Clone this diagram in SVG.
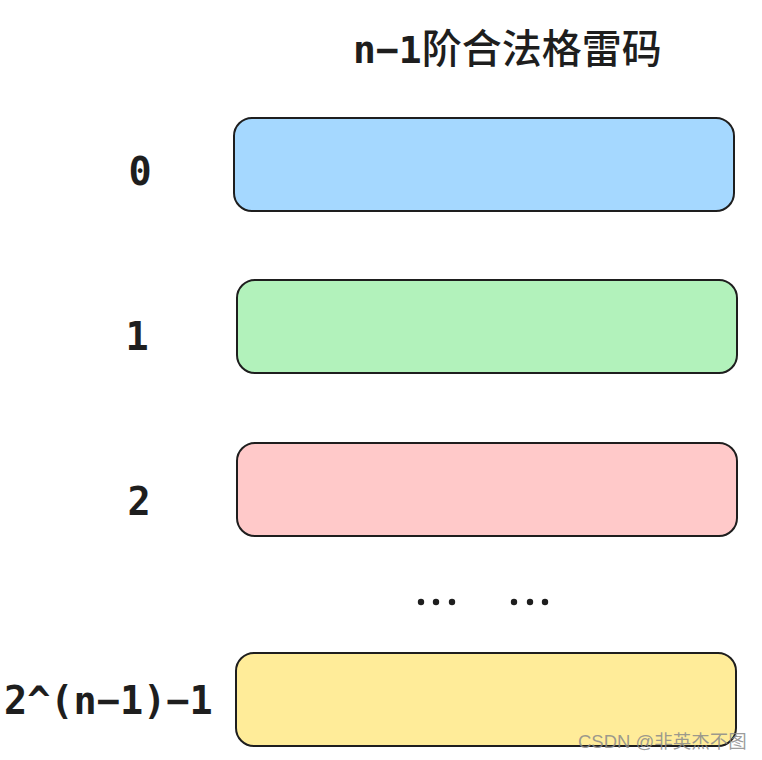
<svg xmlns="http://www.w3.org/2000/svg" width="762" height="760" viewBox="0 0 762 760">
<style>
.box{stroke:#1e1e1e;stroke-width:2}
.lbl{font-family:"DejaVu Sans Mono","Liberation Mono",monospace;font-weight:bold;font-size:38.5px;fill:#1e1e1e}
.title{font-family:"DejaVu Sans Mono","Noto Sans CJK SC",monospace;font-weight:bold;font-size:38px;fill:#1e1e1e}
.dot{fill:#1e1e1e}
</style>
<rect width="762" height="760" fill="#ffffff"/>
<text class="title" x="353" y="63">n−1<tspan style="font-family:'Noto Sans CJK SC',sans-serif;font-weight:500;font-size:40px">阶合法格雷码</tspan></text>
<g id="row0">
<rect class="box" x="234" y="118" width="500" height="93" rx="18" fill="#a5d8ff"/>
<text class="lbl" x="140" y="185" text-anchor="middle">0</text>
</g>
<g id="row1">
<rect class="box" x="237" y="280" width="500" height="93" rx="18" fill="#b2f2bb"/>
<text class="lbl" x="137" y="350" text-anchor="middle">1</text>
</g>
<g id="row2">
<rect class="box" x="237" y="443" width="500" height="93" rx="18" fill="#ffc9c9"/>
<text class="lbl" x="139" y="515" text-anchor="middle">2</text>
</g>
<g id="dots">
<circle class="dot" cx="421" cy="602" r="3.2"/>
<circle class="dot" cx="436" cy="602" r="3.2"/>
<circle class="dot" cx="452" cy="602" r="3.2"/>
<circle class="dot" cx="514" cy="602" r="3.2"/>
<circle class="dot" cx="530" cy="602" r="3.2"/>
<circle class="dot" cx="545" cy="602" r="3.2"/>
</g>
<g id="row3">
<rect class="box" x="236" y="653" width="500" height="93" rx="18" fill="#ffec99"/>
<text class="lbl" x="4" y="714">2^(n−1)−1</text>
</g>
<g id="connectors"></g>
<text x="578" y="748" font-family="'Liberation Sans','Noto Sans CJK SC',sans-serif" font-size="18.5" fill="#8a8a8a" fill-opacity="0.85">CSDN @非英杰不图</text>
</svg>
